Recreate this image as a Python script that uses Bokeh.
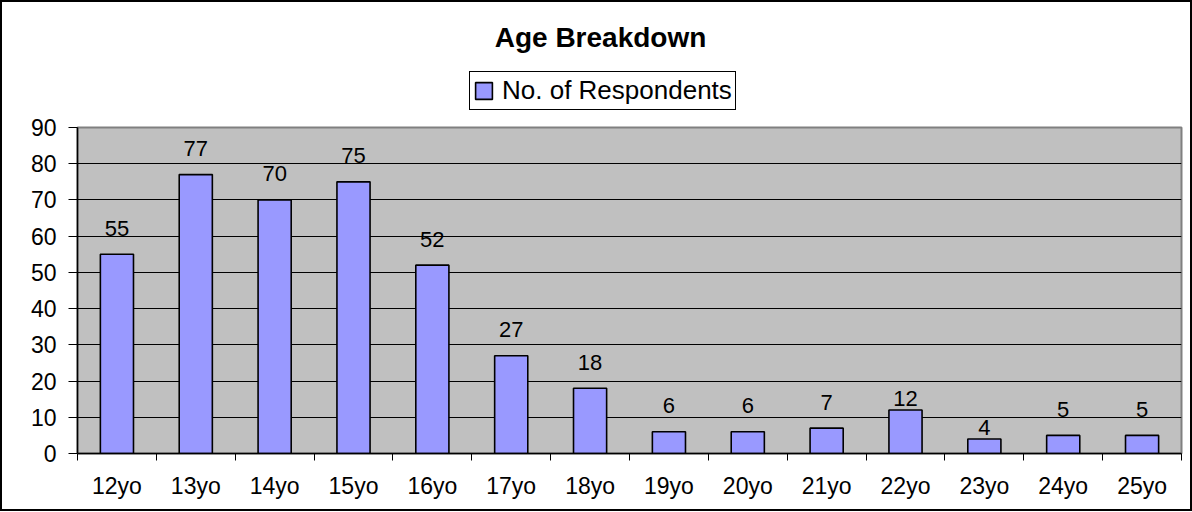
from bokeh.plotting import figure
from bokeh.layouts import column
from bokeh.models import (ColumnDataSource, Range1d, FixedTicker, Legend, LegendItem, Label)
from bokeh.core.properties import value
from bokeh.embed import file_html
from bokeh.resources import INLINE

# ---- data ----
categories = ["12yo", "13yo", "14yo", "15yo", "16yo", "17yo", "18yo",
              "19yo", "20yo", "21yo", "22yo", "23yo", "24yo", "25yo"]
respondents = [55, 77, 70, 75, 52, 27, 18, 6, 6, 7, 12, 4, 5, 5]
y_ticks = [0, 10, 20, 30, 40, 50, 60, 70, 80, 90]
title_text = "Age Breakdown"
series_name = "No. of Respondents"

# ---- styles ----
FONT = "Liberation Sans"
BAR_FILL = "#9999FF"
PLOT_BG = "#C0C0C0"
label_lift = [26] * len(categories)
label_lift[categories.index("22yo")] = 12
label_lift[categories.index("23yo")] = 12

W = 1188
TOP_H = 113
BOT_H = 394
ML, MR, MT, MB = 75, 9, 12, 56

n = len(categories)
centers = [i + 0.5 for i in range(n)]

src = ColumnDataSource(dict(
    x=centers, top=respondents, cat=categories,
    txt=[str(v) for v in respondents],
    yoff=[-l for l in label_lift],
))

# ---------- header figure (title + legend) ----------
# its frame is aligned with the chart frame by the column layout, so the
# x range is expressed in page pixels of that frame
ph = figure(width=W, height=TOP_H, output_backend="svg", toolbar_location=None,
            x_range=Range1d(ML, W - MR), y_range=Range1d(TOP_H, 0),
            min_border=0, min_border_left=0, min_border_right=0,
            min_border_top=0, min_border_bottom=0)
ph.axis.visible = False
ph.grid.visible = False
ph.outline_line_color = None
ph.background_fill_color = "white"
ph.border_fill_color = "white"

ph.add_layout(Label(x=598, y=35, text=title_text, text_align="center",
                    text_baseline="middle", text_font=FONT, text_font_size="28px",
                    text_font_style="bold", text_color="black"))

# legend key: same series, hidden renderer (only its legend swatch is shown)
key = ph.vbar(x="x", top="top", width=0.42, source=src, fill_color=BAR_FILL,
              line_color="black", line_width=1.6, visible=False)
legend = Legend(items=[LegendItem(label=series_name, renderers=[key])],
                location=(392, 5), orientation="horizontal",
                border_line_color="black", border_line_width=1,
                border_line_alpha=1,
                background_fill_color="white", background_fill_alpha=1,
                inactive_fill_alpha=0,
                label_text_font=FONT, label_text_font_size="26px",
                label_text_color="black",
                glyph_width=21, glyph_height=21, padding=3, spacing=0,
                label_standoff=8, margin=0)
ph.add_layout(legend, "center")

# ---------- chart figure ----------
p = figure(width=W, height=BOT_H, output_backend="svg", toolbar_location=None,
           x_range=Range1d(0, n), y_range=Range1d(0, 90),
           min_border_left=ML, min_border_right=MR, min_border_top=MT,
           min_border_bottom=MB)

p.background_fill_color = PLOT_BG
p.border_fill_color = "white"
p.outline_line_color = "#808080"
p.outline_line_width = 2

bars = p.vbar(x="x", top="top", width=0.42, source=src,
              fill_color=BAR_FILL, line_color="black", line_width=1.6)

p.text(x="x", y="top", text="txt", source=src, y_offset="yoff",
       text_align="center", text_baseline="alphabetic",
       text_font=value(FONT), text_font_size="22px", text_color="black")

# grids
p.xgrid.visible = False
p.ygrid.grid_line_color = "black"
p.ygrid.grid_line_width = 1
p.ygrid.ticker = FixedTicker(ticks=y_ticks)

# y axis
p.yaxis.ticker = FixedTicker(ticks=y_ticks)
p.yaxis.axis_line_color = "black"
p.yaxis.axis_line_width = 1.5
p.yaxis.major_tick_out = 9
p.yaxis.major_tick_in = 0
p.yaxis.major_tick_line_color = "black"
p.yaxis.minor_tick_line_color = None
p.yaxis.major_label_text_font = FONT
p.yaxis.major_label_text_font_size = "23px"
p.yaxis.major_label_text_color = "black"
p.yaxis.major_label_standoff = 12

# x axis: labels at centers, tick marks at category boundaries
p.xaxis.ticker = FixedTicker(ticks=centers, minor_ticks=list(range(n + 1)))
p.xaxis.major_label_overrides = {c: cat for c, cat in zip(centers, categories)}
p.xaxis.axis_line_color = "black"
p.xaxis.axis_line_width = 1.5
p.xaxis.major_tick_line_color = None
p.xaxis.minor_tick_line_color = "black"
p.xaxis.minor_tick_out = 7
p.xaxis.minor_tick_in = 0
p.xaxis.major_tick_out = 0
p.xaxis.major_tick_in = 0
p.xaxis.major_label_text_font = FONT
p.xaxis.major_label_text_font_size = "23px"
p.xaxis.major_label_text_color = "black"
p.xaxis.major_label_standoff = 12

page = column(ph, p, spacing=0, styles={"border": "2px solid black"})

open("out.html", "w").write(file_html(page, INLINE))
